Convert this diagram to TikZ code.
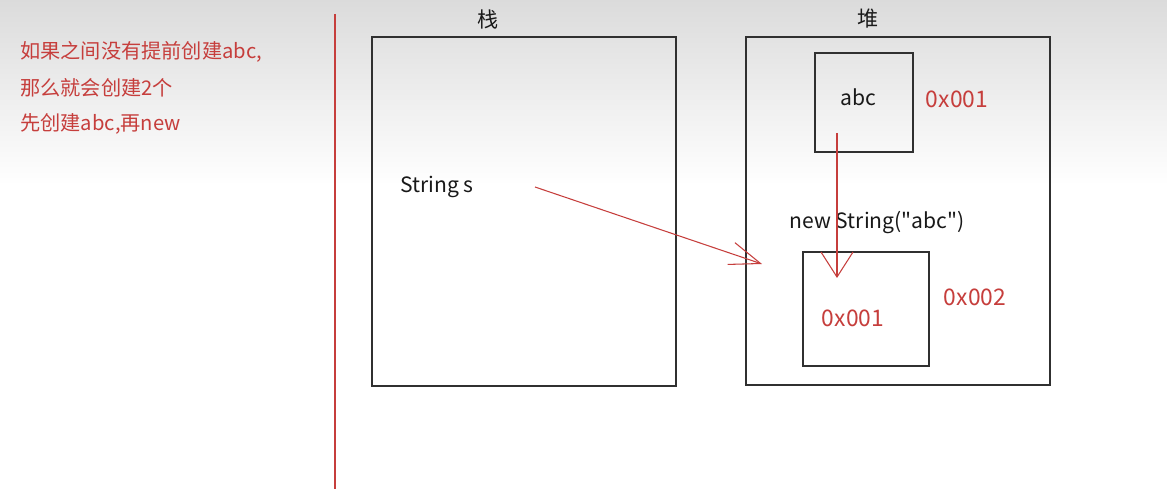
\documentclass[tikz,border=0pt]{standalone}
\usepackage{fontspec}
\setmainfont{Noto Sans CJK SC}[Ligatures=TeXOff]
\usetikzlibrary{arrows.meta,positioning}
\definecolor{pen}{RGB}{198,62,60}
\definecolor{ink}{RGB}{25,25,25}
\tikzset{
  box/.style={draw=ink!90, line width=0.8pt, inner sep=0pt},
  txt/.style={text=ink, font=\fontsize{12}{14}\selectfont, inner sep=1pt},
  hex/.style={text=pen, font=\fontsize{13}{15}\selectfont, inner sep=1pt},
  note/.style={text=pen, font=\fontsize{11.5}{14}\selectfont, inner sep=0pt, anchor=west},
  ptr/.style={pen, line width=0.6pt}
}
\begin{document}
\begin{tikzpicture}[x=0.02cm,y=-0.02cm]
    \useasboundingbox (0,0) rectangle (1167,489);
    \shade[top color=black!14, bottom color=white] (0,0) rectangle (1167,185);
    \fill[white] (0,185) rectangle (1167,489);

    \node[note] (t1) at (20,52) {如果之间没有提前创建abc,};
    \node[note, below=0.72cm of t1.west, anchor=west] (t2) {那么就会创建2个};
    \node[note, below=0.72cm of t2.west, anchor=west] (t3) {先创建abc,再new};

    \coordinate (l1) at (335,14);
    \coordinate (l2) at (335,489);
    \draw[pen, line width=0.7pt] (l1) -- (l2);

    \node[box, minimum width=6.08cm, minimum height=6.98cm] (s1) at (524,211.5) {};
    \node[box, minimum width=6.08cm, minimum height=6.96cm] (h1) at (898,211) {};
    \node[txt] (s2) at (488,19) {栈};
    \node[txt] (h2) at (868,19) {堆};

    \node[box, minimum width=1.96cm, minimum height=1.98cm] (a1) at (864,102.5) {};
    \node[txt] (a2) at (858,97) {abc};
    \node[hex] (a3) at (957,99) {0x001};

    \node[txt] (n1) at (877,223) {new String("abc")};
    \node[box, minimum width=2.52cm, minimum height=2.28cm] (b1) at (866,309) {};
    \node[hex] (b2) at (853,318) {0x001};
    \node[hex] (b3) at (975,297) {0x002};

    \node[txt] (v1) at (437,187) {String s};

    \coordinate (p1) at (535,187);
    \coordinate (p2) at (762,264);
    \coordinate (q1) at (837,133);
    \coordinate (q2) at (837,278);
    \draw[ptr, -{Straight Barb[length=0.62cm, width=0.46cm]}] (p1) -- (p2);
    \draw[ptr, -{Straight Barb[length=0.5cm, width=0.64cm]}] (q1) -- (q2);
\end{tikzpicture}
\end{document}
